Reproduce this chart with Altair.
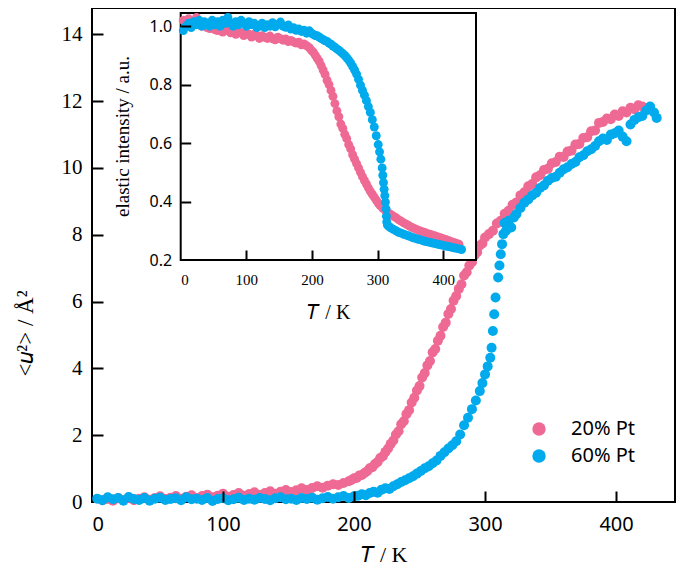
import altair as alt
import pandas as pd

# ---------------- data ----------------
SERIES = ["20% Pt", "60% Pt"]
PINK = "#EE6A94"
BLUE = "#00AAEC"

# main panel: <u^2> vs T, 20% Pt
main_pink_T = [8, 12, 16, 20, 24, 28, 32, 36, 40, 44, 48, 52, 56, 60, 64, 68, 72, 76, 80, 84, 88, 92, 96, 100,
               104, 108, 112, 116, 120, 124, 128, 132, 136, 140, 144, 148, 152, 156, 160, 164, 168, 172, 176,
               180, 184, 188, 192, 196, 198, 200, 202, 204, 206, 208, 210, 212, 214, 216, 218, 220, 222, 224,
               226, 228, 230, 232, 234, 236, 238, 240, 242, 244, 246, 248, 250, 252, 254, 256, 258, 260, 262,
               264, 266, 268, 270, 272, 274, 276, 278, 280, 282, 284, 286, 288, 290, 292, 294, 296, 298, 300,
               303, 306, 309, 312, 315, 318, 321, 324, 327, 330, 333, 336, 339, 342, 345, 348, 351, 354, 357,
               360, 363, 366, 369, 372, 375, 378, 381, 384, 387, 390, 393, 396, 399, 402, 405, 408, 411, 414,
               417, 420, 423]
main_pink_u2 = [0.05, 0.09, 0.04, 0.11, 0.06, 0.12, 0.05, 0.10, 0.14, 0.07, 0.12, 0.17, 0.09, 0.13, 0.18, 0.10,
                0.16, 0.20, 0.12, 0.18, 0.22, 0.14, 0.19, 0.25, 0.16, 0.21, 0.27, 0.19, 0.24, 0.29, 0.21, 0.27,
                0.32, 0.25, 0.31, 0.36, 0.30, 0.35, 0.41, 0.36, 0.42, 0.47, 0.43, 0.49, 0.53, 0.51, 0.57, 0.62,
                0.66, 0.71, 0.72, 0.79, 0.81, 0.87, 0.92, 1.01, 1.04, 1.14, 1.20, 1.32, 1.37, 1.50, 1.60, 1.74,
                1.84, 2.02, 2.12, 2.33, 2.42, 2.63, 2.75, 2.98, 3.12, 3.34, 3.47, 3.73, 3.86, 4.09, 4.22, 4.48,
                4.58, 4.83, 4.98, 5.24, 5.37, 5.63, 5.78, 6.03, 6.17, 6.38, 6.52, 6.78, 6.88, 7.08, 7.18, 7.38,
                7.48, 7.68, 7.74, 7.92, 8.02, 8.12, 8.34, 8.42, 8.63, 8.72, 8.90, 8.97, 9.18, 9.27, 9.45, 9.52,
                9.72, 9.78, 9.94, 9.98, 10.14, 10.18, 10.34, 10.33, 10.49, 10.52, 10.70, 10.72, 10.90, 10.92,
                11.10, 11.12, 11.35, 11.38, 11.48, 11.46, 11.60, 11.56, 11.70, 11.66, 11.80, 11.76, 11.88,
                11.84, 11.78]

# main panel: <u^2> vs T, 60% Pt
main_blue_T = [4, 8, 12, 16, 20, 24, 28, 32, 36, 40, 44, 48, 52, 56, 60, 64, 68, 72, 76, 80, 84, 88, 92, 96,
               100, 104, 108, 112, 116, 120, 124, 128, 132, 136, 140, 144, 148, 152, 156, 160, 164, 168, 172,
               176, 180, 184, 188, 192, 196, 200, 203, 206, 209, 212, 215, 218, 221, 224, 227, 230, 233, 236,
               239, 242, 245, 248, 251, 254, 257, 260, 263, 266, 269, 272, 275, 278, 281, 284, 287, 290, 293,
               296, 298, 300, 302, 304, 305, 306, 307, 308, 310, 311, 312, 313, 314, 315, 316, 318, 320, 322,
               324, 327, 330, 333, 336, 339, 342, 345, 348, 351, 354, 357, 360, 363, 366, 369, 372, 375, 378,
               381, 384, 387, 390, 393, 396, 399, 402, 405, 408, 411, 414, 417, 420, 423, 426, 429, 431]
main_blue_u2 = [0.10, 0.05, 0.14, 0.08, 0.12, 0.04, 0.15, 0.09, 0.06, 0.12, 0.04, 0.10, 0.13, 0.06, 0.09, 0.11,
                0.05, 0.14, 0.08, 0.10, 0.06, 0.12, 0.03, 0.09, 0.11, 0.05, 0.08, 0.13, 0.06, 0.10, 0.07, 0.12,
                0.09, 0.05, 0.11, 0.14, 0.08, 0.10, 0.06, 0.12, 0.09, 0.13, 0.07, 0.11, 0.15, 0.10, 0.14, 0.18,
                0.12, 0.17, 0.19, 0.23, 0.20, 0.27, 0.31, 0.28, 0.37, 0.41, 0.39, 0.47, 0.53, 0.60, 0.65, 0.71,
                0.77, 0.85, 0.93, 1.01, 1.07, 1.16, 1.24, 1.38, 1.49, 1.60, 1.70, 1.82, 2.02, 2.30, 2.52, 2.78,
                3.04, 3.32, 3.56, 3.82, 4.06, 4.32, 4.62, 5.12, 5.62, 6.12, 6.72, 7.08, 7.42, 7.72, 8.02, 8.35,
                8.12, 8.42, 8.22, 8.52, 8.62, 8.80, 8.96, 9.06, 9.18, 9.26, 9.40, 9.48, 9.62, 9.70, 9.74, 9.86,
                9.96, 10.02, 10.12, 10.18, 10.32, 10.38, 10.50, 10.56, 10.66, 10.80, 10.88, 10.84, 11.00, 11.04,
                11.12, 10.94, 10.80, 11.30, 11.44, 11.52, 11.56, 11.72, 11.84, 11.66, 11.50]

# inset: elastic intensity vs T, 20% Pt
inset_pink_T = [4, 8, 12, 16, 20, 24, 28, 32, 36, 40, 44, 48, 52, 56, 60, 64, 68, 72, 76, 80, 84, 88, 92, 96,
                100, 104, 108, 112, 116, 120, 124, 128, 132, 136, 140, 144, 148, 152, 156, 160, 164, 168, 172,
                176, 180, 184, 188, 192, 196, 199, 202, 205, 208, 211, 214, 217, 220, 223, 226, 229, 232, 235,
                238, 241, 244, 247, 250, 253, 256, 259, 262, 265, 268, 271, 274, 277, 280, 283, 286, 289, 292,
                295, 298, 301, 304, 308, 312, 316, 320, 324, 328, 332, 336, 340, 344, 348, 352, 356, 360, 364,
                368, 372, 376, 380, 384, 388, 392, 396, 400, 404, 408, 412, 416, 420, 424]
inset_pink_I = [1.020, 1.010, 1.025, 1.000, 1.015, 1.030, 1.005, 1.000, 1.012, 0.995, 0.992, 1.000, 0.988, 0.985,
                0.993, 0.980, 0.990, 0.985, 0.977, 0.986, 0.972, 0.982, 0.977, 0.968, 0.977, 0.972, 0.963, 0.972,
                0.968, 0.958, 0.967, 0.962, 0.958, 0.966, 0.957, 0.953, 0.962, 0.957, 0.952, 0.956, 0.947, 0.951,
                0.946, 0.942, 0.945, 0.936, 0.939, 0.933, 0.926, 0.918, 0.911, 0.901, 0.890, 0.880, 0.865, 0.850,
                0.835, 0.815, 0.800, 0.780, 0.760, 0.735, 0.710, 0.690, 0.665, 0.650, 0.630, 0.615, 0.595, 0.580,
                0.560, 0.545, 0.530, 0.515, 0.500, 0.485, 0.472, 0.460, 0.447, 0.435, 0.425, 0.415, 0.405, 0.395,
                0.386, 0.377, 0.370, 0.362, 0.356, 0.350, 0.345, 0.338, 0.333, 0.327, 0.322, 0.317, 0.312, 0.308,
                0.304, 0.300, 0.297, 0.294, 0.290, 0.288, 0.285, 0.282, 0.279, 0.276, 0.273, 0.270, 0.267, 0.263,
                0.260, 0.257, 0.254]

# inset: elastic intensity vs T, 60% Pt
inset_blue_T = [4, 8, 12, 16, 20, 24, 28, 32, 36, 40, 44, 48, 52, 56, 60, 64, 68, 72, 76, 80, 84, 88, 92, 96,
                100, 104, 108, 112, 116, 120, 124, 128, 132, 136, 140, 144, 148, 152, 156, 160, 164, 168, 172,
                176, 180, 184, 188, 192, 196, 199, 202, 205, 208, 211, 214, 217, 220, 223, 226, 229, 232, 235,
                238, 241, 244, 247, 250, 253, 256, 259, 262, 265, 268, 271, 274, 277, 280, 283, 286, 289, 292,
                295, 298, 301, 303, 305, 307, 308, 309, 310, 311, 312, 313, 313.5, 314, 315, 317, 320, 324, 328,
                332, 336, 340, 344, 348, 352, 356, 360, 364, 368, 372, 376, 380, 384, 388, 392, 396, 400, 404,
                408, 412, 416, 420, 424, 428]
inset_blue_I = [0.985, 1.000, 1.010, 0.995, 1.015, 1.005, 1.020, 1.000, 1.015, 1.010, 1.000, 1.020, 1.005, 1.015,
                1.000, 1.020, 1.010, 1.030, 1.010, 1.000, 1.015, 1.005, 1.020, 1.010, 1.000, 1.015, 1.005, 1.010,
                0.995, 1.000, 1.010, 0.995, 1.005, 1.000, 1.012, 0.998, 1.006, 1.014, 1.000, 0.996, 1.004, 0.990,
                0.995, 0.986, 0.990, 0.982, 0.986, 0.976, 0.984, 0.976, 0.972, 0.968, 0.967, 0.963, 0.958, 0.954,
                0.950, 0.948, 0.942, 0.938, 0.932, 0.928, 0.922, 0.918, 0.912, 0.906, 0.900, 0.892, 0.884, 0.874,
                0.862, 0.850, 0.836, 0.818, 0.798, 0.780, 0.764, 0.745, 0.725, 0.705, 0.680, 0.655, 0.625, 0.595,
                0.570, 0.545, 0.515, 0.490, 0.465, 0.442, 0.420, 0.398, 0.375, 0.350, 0.330, 0.320, 0.315, 0.310,
                0.305, 0.300, 0.295, 0.292, 0.288, 0.285, 0.282, 0.278, 0.275, 0.272, 0.270, 0.267, 0.264, 0.262,
                0.260, 0.258, 0.256, 0.254, 0.252, 0.250, 0.248, 0.246, 0.244, 0.242, 0.240, 0.238, 0.236]

main_tick_labels_x = [0, 100, 200, 300, 400]
main_tick_labels_y = [0, 2, 4, 6, 8, 10, 12, 14]
inset_tick_labels_x = [0, 100, 200, 300, 400]
inset_tick_labels_y = [0.2, 0.4, 0.6, 0.8, 1.0]

# ---------------- layout ----------------
W, H = 583, 494
X_DOM, Y_DOM = [0, 445], [0, 14.79]
IX_DOM, IY_DOM = [0, 450], [0.2, 1.045]
IX_RANGE = [88.7, 384]
IY_RANGE = [252, 5]

SERIF = "Liberation Serif, Times New Roman, serif"
SANS = "Noto Sans"

main_df = pd.concat([
    pd.DataFrame({"T": main_pink_T, "u2": main_pink_u2, "series": SERIES[0]}),
    pd.DataFrame({"T": main_blue_T, "u2": main_blue_u2, "series": SERIES[1]}),
], ignore_index=True)
inset_df = pd.concat([
    pd.DataFrame({"Ti": inset_pink_T, "I": inset_pink_I, "series": SERIES[0]}),
    pd.DataFrame({"Ti": inset_blue_T, "I": inset_blue_I, "series": SERIES[1]}),
], ignore_index=True)
frame_df = pd.DataFrame({"x0": [IX_DOM[0]], "x1": [IX_DOM[1]], "y0": [IY_DOM[0]], "y1": [IY_DOM[1]]})

xs = alt.Scale(domain=X_DOM, nice=False, zero=False)
ys = alt.Scale(domain=Y_DOM, nice=False, zero=False)
ixs = alt.Scale(domain=IX_DOM, range=IX_RANGE, nice=False, zero=False)
iys = alt.Scale(domain=IY_DOM, range=IY_RANGE, nice=False, zero=False)

legend = alt.Legend(orient="none", legendX=437, legendY=411, title=None, symbolType="circle",
                    symbolSize=180, symbolStrokeWidth=0, symbolOpacity=1, labelFont=SANS,
                    labelFontSize=20, labelColor="black", labelOffset=22, rowPadding=7)
color = alt.Color("series:N", scale=alt.Scale(domain=SERIES, range=[PINK, BLUE]), legend=legend)

main = alt.Chart(main_df).mark_circle(size=100, opacity=1).encode(
    x=alt.X("T:Q", scale=xs, axis=alt.Axis(
        orient="bottom", values=main_tick_labels_x, ticks=False, tickSize=0, domain=False, grid=False,
        labelFont=SANS, labelFontSize=20, labelColor="black", labelPadding=12,
        title="𝑇 / K", titleFont=SERIF, titleFontSize=22, titleFontWeight="normal", titleColor="black",
        titleY=52, titleBaseline="middle", zindex=1)),
    y=alt.Y("u2:Q", scale=ys, axis=alt.Axis(
        orient="left", values=main_tick_labels_y, ticks=False, tickSize=0, domain=False, grid=False,
        labelFont=SERIF, labelFontSize=21, labelColor="black", labelPadding=10,
        title="<𝑢²> / Å²", titleFont=SERIF, titleFontSize=23, titleFontWeight="normal", titleColor="black",
        titleX=-67, titleY=325, titleAngle=270, titleAlign="center", titleBaseline="middle", zindex=1)),
    color=color,
)

frame = alt.Chart(frame_df).mark_rect(fill="white", stroke="black", strokeWidth=2).encode(
    x=alt.X("x0:Q", scale=ixs, axis=None), x2="x1:Q",
    y=alt.Y("y0:Q", scale=iys, axis=None), y2="y1:Q",
)

inset = alt.Chart(inset_df).mark_circle(size=80, opacity=1).encode(
    x=alt.X("Ti:Q", scale=ixs, axis=alt.Axis(
        orient="bottom", offset=-(H - IY_RANGE[0]), values=inset_tick_labels_x, ticks=False, tickSize=0,
        domain=False, grid=False, labelFont=SERIF, labelFontSize=15, labelColor="black", labelPadding=12,
        title="𝑇 / K", titleFont=SERIF, titleFontSize=20, titleFontWeight="normal", titleColor="black",
        titleY=52, titleBaseline="middle", zindex=1)),
    y=alt.Y("I:Q", scale=iys, axis=alt.Axis(
        orient="left", offset=-IX_RANGE[0], values=inset_tick_labels_y, format=".1f", ticks=False, tickSize=0,
        domain=False, grid=False, labelFont=SANS, labelFontSize=16, labelColor="black", labelPadding=9,
        title="elastic intensity / a.u.", titleFont=SERIF, titleFontSize=19, titleFontWeight="normal",
        titleColor="black", titleX=-58, titleY=128, titleAngle=270, titleAlign="center",
        titleBaseline="middle", zindex=1)),
    color=color,
)

main_ticks = alt.Chart(main_df).mark_point(opacity=0).encode(
    x=alt.X("T:Q", scale=xs, axis=alt.Axis(
        orient="top", offset=-H, values=main_tick_labels_x[1:], labels=False, domain=False, grid=False,
        ticks=True, tickSize=11, tickWidth=2, tickColor="black", title=None, zindex=2)),
    y=alt.Y("u2:Q", scale=ys, axis=alt.Axis(
        orient="right", offset=-W, values=main_tick_labels_y[1:], labels=False, domain=False, grid=False,
        ticks=True, tickSize=11, tickWidth=2, tickColor="black", title=None, zindex=2)),
)

inset_ticks = alt.Chart(inset_df).mark_point(opacity=0).encode(
    x=alt.X("Ti:Q", scale=ixs, axis=alt.Axis(
        orient="top", offset=-IY_RANGE[0], values=inset_tick_labels_x[1:], labels=False, domain=False,
        grid=False, ticks=True, tickSize=10, tickWidth=2, tickColor="black", title=None, zindex=2)),
    y=alt.Y("I:Q", scale=iys, axis=alt.Axis(
        orient="right", offset=-(W - IX_RANGE[0]), values=inset_tick_labels_y[1:], labels=False,
        domain=False, grid=False, ticks=True, tickSize=10, tickWidth=2, tickColor="black", title=None,
        zindex=2)),
)

chart = alt.layer(main, frame, inset, main_ticks, inset_ticks).resolve_scale(
    x="independent", y="independent"
).resolve_axis(
    x="independent", y="independent"
).properties(
    width=W, height=H,
    autosize=alt.AutoSizeParams(type="none"),
    padding={"left": 84, "top": 0, "right": 2, "bottom": 70},
).configure_view(
    stroke="black", strokeWidth=2
)

chart.save("out.html", embed_options={"renderer": "svg", "actions": False})
